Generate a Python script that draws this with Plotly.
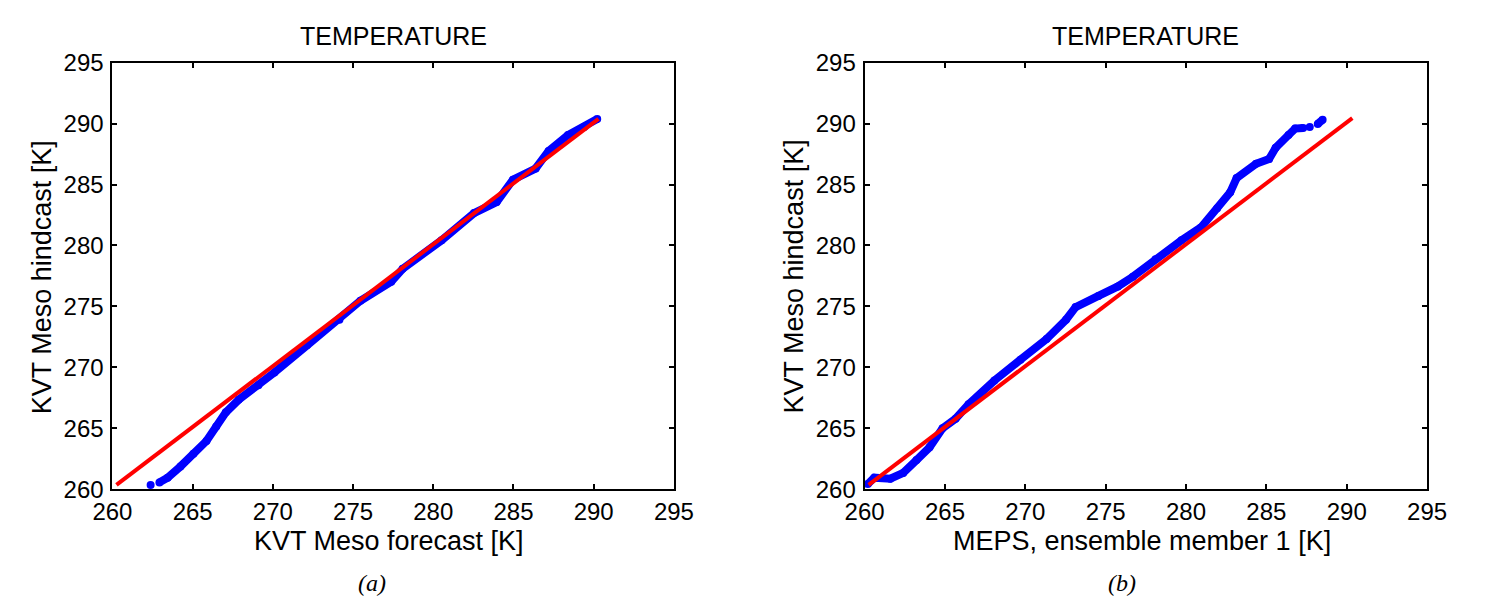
import plotly.graph_objects as go

# ---------------- data ----------------
a_x = [262.38, None, 262.93, 263.44, 264.24, 265.05, 265.86, 266.47, 267.07, 267.88,
       269.10, 270.10, 272.13, 274.15, 275.46, 277.38, 278.09, 280.52, 282.54,
       283.95, 284.97, 286.38, 287.19, 288.40, 289.41, 290.22]
a_y = [260.34, None, 260.55, 260.94, 261.86, 262.90, 263.95, 265.13, 266.30, 267.35,
       268.53, 269.58, 271.80, 273.90, 275.46, 277.03, 278.08, 280.43, 282.66,
       283.57, 285.40, 286.32, 287.76, 289.07, 289.72, 290.38]

b_x = [260.20, 260.60, 261.60, 262.40, 263.23, 264.04, 264.85, 265.66, 266.47,
       268.08, 269.70, 271.32, 272.53, 273.13, 274.55, 275.76, 276.69, 278.10,
       279.72, 280.93, 281.94, 282.75, 283.15, 284.36, 285.17, 285.58, 286.38,
       286.79, 287.29, None, 287.70, None, 288.20, 288.50]
b_y = [260.42, 260.94, 260.86, 261.33, 262.38, 263.43, 265.00, 265.78, 266.96,
       268.92, 270.62, 272.32, 273.90, 274.94, 275.86, 276.64, 277.43, 278.86,
       280.43, 281.48, 283.05, 284.36, 285.53, 286.71, 287.10, 288.02, 289.07,
       289.60, 289.65, None, 289.72, None, 289.98, 290.32]

ref_a_x = [260.25, 290.30]
ref_a_y = [260.35, 290.40]
ref_b_x = [260.25, 290.35]
ref_b_y = [260.35, 290.45]

axis_range = [260, 295]
tick_vals = [260, 265, 270, 275, 280, 285, 290, 295]
tick_text = [str(v) for v in tick_vals]

titles = ["TEMPERATURE", "TEMPERATURE"]
x_titles = ["KVT Meso forecast [K]", "MEPS, ensemble member 1 [K]"]
y_titles = ["KVT Meso hindcast [K]", "KVT Meso hindcast [K]"]
panel_labels = ["(a)", "(b)"]

# ---------------- figure ----------------
W, H = 1485, 613
FONT = "Liberation Sans, Arial, sans-serif"
BLUE = "#0000ff"
RED = "#ff0000"

fig = go.Figure()

for xs, ys, rx, ry, xa, ya in [(a_x, a_y, ref_a_x, ref_a_y, "x", "y"),
                               (b_x, b_y, ref_b_x, ref_b_y, "x2", "y2")]:
    fig.add_trace(go.Scatter(x=xs, y=ys, mode="lines+markers", xaxis=xa, yaxis=ya,
                             line=dict(color=BLUE, width=8),
                             marker=dict(color=BLUE, size=8), connectgaps=False,
                             showlegend=False, hoverinfo="skip"))
    fig.add_trace(go.Scatter(x=rx, y=ry, mode="lines", xaxis=xa, yaxis=ya,
                             line=dict(color=RED, width=4), showlegend=False, hoverinfo="skip"))

ax_common = dict(range=axis_range, tickvals=tick_vals, ticktext=tick_text,
                 showline=True, linecolor="black", linewidth=2, mirror="ticks",
                 ticks="inside", ticklen=5, tickwidth=1.5, tickcolor="black",
                 showgrid=False, zeroline=False,
                 tickfont=dict(family=FONT, size=24, color="black"))

left_dom = [95 / W, 672 / W]
right_dom = [868 / W, 1446 / W]
y_dom = [1 - 497 / H, 1 - 51 / H]

fig.update_layout(
    width=W, height=H, margin=dict(l=0, r=0, t=0, b=0),
    paper_bgcolor="white", plot_bgcolor="white",
    xaxis=dict(domain=left_dom, anchor="y", **ax_common),
    yaxis=dict(domain=y_dom, anchor="x", ticklabelstandoff=2, **ax_common),
    xaxis2=dict(domain=right_dom, anchor="y2", **ax_common),
    yaxis2=dict(domain=y_dom, anchor="x2", ticklabelstandoff=2, **ax_common),
)

annotations = []
centers = [(left_dom[0] + left_dom[1]) / 2, (right_dom[0] + right_dom[1]) / 2]
ytitle_x = [23 / W, 795 / W]
label_x = [362 / W, 1133 / W]
for i in range(2):
    annotations.append(dict(text=titles[i], x=centers[i], y=1 - 23 / H, xref="paper", yref="paper",
                            showarrow=False, xanchor="center", yanchor="middle",
                            font=dict(family=FONT, size=25, color="black")))
    annotations.append(dict(text=x_titles[i], x=centers[i] - 4 / W, y=1 - 551 / H,
                            xref="paper", yref="paper",
                            showarrow=False, xanchor="center", yanchor="middle",
                            font=dict(family=FONT, size=27, color="black")))
    annotations.append(dict(text=y_titles[i], x=ytitle_x[i], y=1 - 275 / H, xref="paper", yref="paper",
                            showarrow=False, xanchor="center", yanchor="middle", textangle=-90,
                            font=dict(family=FONT, size=27, color="black")))
    annotations.append(dict(text="<i>" + panel_labels[i] + "</i>", x=label_x[i],
                            y=1 - 595 / H, xref="paper", yref="paper",
                            showarrow=False, xanchor="center", yanchor="middle",
                            font=dict(family="Liberation Serif, Times New Roman, serif", size=24,
                                      color="black")))
fig.update_layout(annotations=annotations)

fig.write_html("out.html")
